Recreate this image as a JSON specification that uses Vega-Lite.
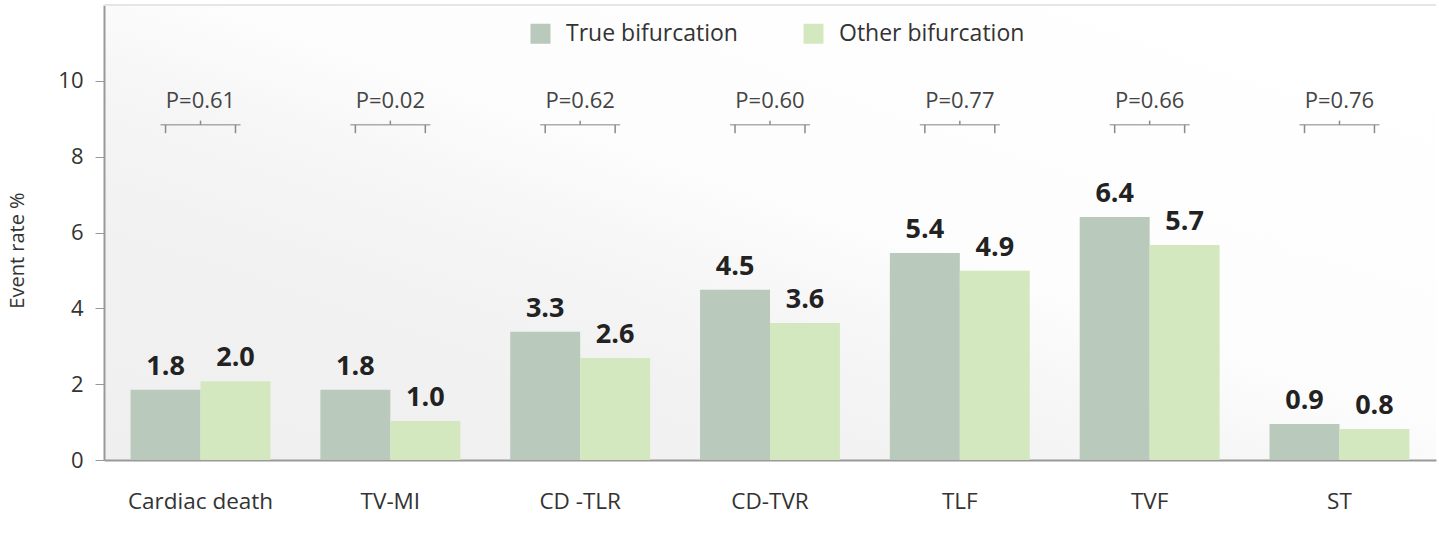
{
  "$schema": "https://vega.github.io/schema/vega-lite/v6.json",
  "width": 1332,
  "height": 455,
  "autosize": {"type": "none"},
  "padding": {"left": 104, "top": 5, "right": 3, "bottom": 81},
  "background": "white",
  "config": {
    "font": "Open Sans",
    "view": {
      "stroke": null,
      "fill": {"gradient": "linear", "x1": 0, "y1": 1, "x2": 1, "y2": 0,
        "stops": [{"offset": 0, "color": "#efefef"}, {"offset": 0.3, "color": "#f2f2f2"}, {"offset": 0.42, "color": "#f6f6f6"}, {"offset": 0.55, "color": "#fdfdfd"}, {"offset": 1, "color": "#ffffff"}]}
    }
  },
  "datasets": {
    "rates": [
      {"category": "Cardiac death", "group": "True bifurcation", "rate": 1.85, "label": "1.8"},
      {"category": "Cardiac death", "group": "Other bifurcation", "rate": 2.08, "label": "2.0"},
      {"category": "TV-MI", "group": "True bifurcation", "rate": 1.85, "label": "1.8"},
      {"category": "TV-MI", "group": "Other bifurcation", "rate": 1.03, "label": "1.0"},
      {"category": "CD -TLR", "group": "True bifurcation", "rate": 3.38, "label": "3.3"},
      {"category": "CD -TLR", "group": "Other bifurcation", "rate": 2.69, "label": "2.6"},
      {"category": "CD-TVR", "group": "True bifurcation", "rate": 4.49, "label": "4.5"},
      {"category": "CD-TVR", "group": "Other bifurcation", "rate": 3.61, "label": "3.6"},
      {"category": "TLF", "group": "True bifurcation", "rate": 5.46, "label": "5.4"},
      {"category": "TLF", "group": "Other bifurcation", "rate": 4.99, "label": "4.9"},
      {"category": "TVF", "group": "True bifurcation", "rate": 6.41, "label": "6.4"},
      {"category": "TVF", "group": "Other bifurcation", "rate": 5.67, "label": "5.7"},
      {"category": "ST", "group": "True bifurcation", "rate": 0.95, "label": "0.9"},
      {"category": "ST", "group": "Other bifurcation", "rate": 0.82, "label": "0.8"}
    ],
    "pvals": [
      {"category": "Cardiac death", "p": "P=0.61"},
      {"category": "TV-MI", "p": "P=0.02"},
      {"category": "CD -TLR", "p": "P=0.62"},
      {"category": "CD-TVR", "p": "P=0.60"},
      {"category": "TLF", "p": "P=0.77"},
      {"category": "TVF", "p": "P=0.66"},
      {"category": "ST", "p": "P=0.76"}
    ]
  },
  "encoding": {
    "x": {
      "field": "category", "type": "nominal",
      "scale": {"domain": ["Cardiac death", "TV-MI", "CD -TLR", "CD-TVR", "TLF", "TVF", "ST"], "paddingInner": 0.263, "paddingOuter": 0.14},
      "axis": {"title": null, "labelAngle": 0, "labelFontSize": 22.5, "labelColor": "#333333", "labelPadding": 30, "ticks": false, "domainColor": "#999999", "domainWidth": 2}
    }
  },
  "layer": [
    {
      "data": {"name": "rates"},
      "mark": {"type": "bar"},
      "encoding": {
        "xOffset": {"field": "group", "type": "nominal", "scale": {"domain": ["True bifurcation", "Other bifurcation"], "paddingInner": 0, "paddingOuter": 0}},
        "y": {
          "field": "rate", "type": "quantitative",
          "scale": {"domain": [0, 12], "nice": false},
          "axis": {"title": "Event rate %", "titleFontSize": 20, "titleFontWeight": "normal", "titleColor": "#333333", "titlePadding": 30, "titleY": 245, "values": [0, 2, 4, 6, 8, 10], "labelFontSize": 22, "labelColor": "#333333", "labelPadding": 12, "tickSize": 9, "tickColor": "#999999", "domainColor": "#999999", "domainWidth": 2, "grid": false}
        },
        "color": {
          "field": "group", "type": "nominal",
          "scale": {"domain": ["True bifurcation", "Other bifurcation"], "range": ["#b9c9bb", "#d4e8bf"]},
          "legend": {"title": null, "orient": "none", "direction": "horizontal", "legendX": 425, "legendY": 17, "symbolType": "square", "symbolSize": 400, "symbolStrokeWidth": 0, "labelFontSize": 23, "labelColor": "#333333", "labelOffset": 14, "columnPadding": 64, "labelLimit": 300}
        }
      }
    },
    {
      "data": {"name": "rates"},
      "mark": {"type": "text", "fontSize": 27, "fontWeight": "bold", "color": "#222222", "baseline": "alphabetic", "dy": -15},
      "encoding": {
        "xOffset": {"field": "group", "type": "nominal"},
        "y": {"field": "rate", "type": "quantitative"},
        "text": {"field": "label"}
      }
    },
    {
      "data": {"name": "pvals"},
      "mark": {"type": "text", "fontSize": 22, "color": "#444444", "baseline": "alphabetic"},
      "encoding": {
        "y": {"datum": 9.28, "type": "quantitative"},
        "text": {"field": "p"}
      }
    },
    {
      "data": {"name": "pvals"},
      "mark": {"type": "tick", "orient": "horizontal", "size": 80, "thickness": 1.5, "color": "#8a8a8a"},
      "encoding": {
        "y": {"datum": 8.84, "type": "quantitative"}
      }
    },
    {
      "data": {"name": "pvals"},
      "mark": {"type": "rule", "strokeWidth": 1.5, "color": "#8a8a8a"},
      "encoding": {
        "y": {"datum": 8.84, "type": "quantitative"},
        "y2": {"datum": 8.95}
      }
    },
    {
      "data": {"name": "rates"},
      "transform": [{"filter": "datum.group === 'True bifurcation'"}],
      "mark": {"type": "rule", "strokeWidth": 1.5, "color": "#8a8a8a", "xOffset": -4},
      "encoding": {
        "xOffset": {"field": "group", "type": "nominal"},
        "y": {"datum": 8.62, "type": "quantitative"},
        "y2": {"datum": 8.84}
      }
    },
    {
      "data": {"name": "rates"},
      "transform": [{"filter": "datum.group === 'Other bifurcation'"}],
      "mark": {"type": "rule", "strokeWidth": 1.5, "color": "#8a8a8a", "xOffset": 4},
      "encoding": {
        "xOffset": {"field": "group", "type": "nominal"},
        "y": {"datum": 8.62, "type": "quantitative"},
        "y2": {"datum": 8.84}
      }
    },
    {
      "data": {"values": [{}]},
      "mark": {"type": "rule", "strokeWidth": 2, "color": "#e6e6e6"},
      "encoding": {
        "x": null,
        "y": {"datum": 12, "type": "quantitative"}
      }
    }
  ]
}
